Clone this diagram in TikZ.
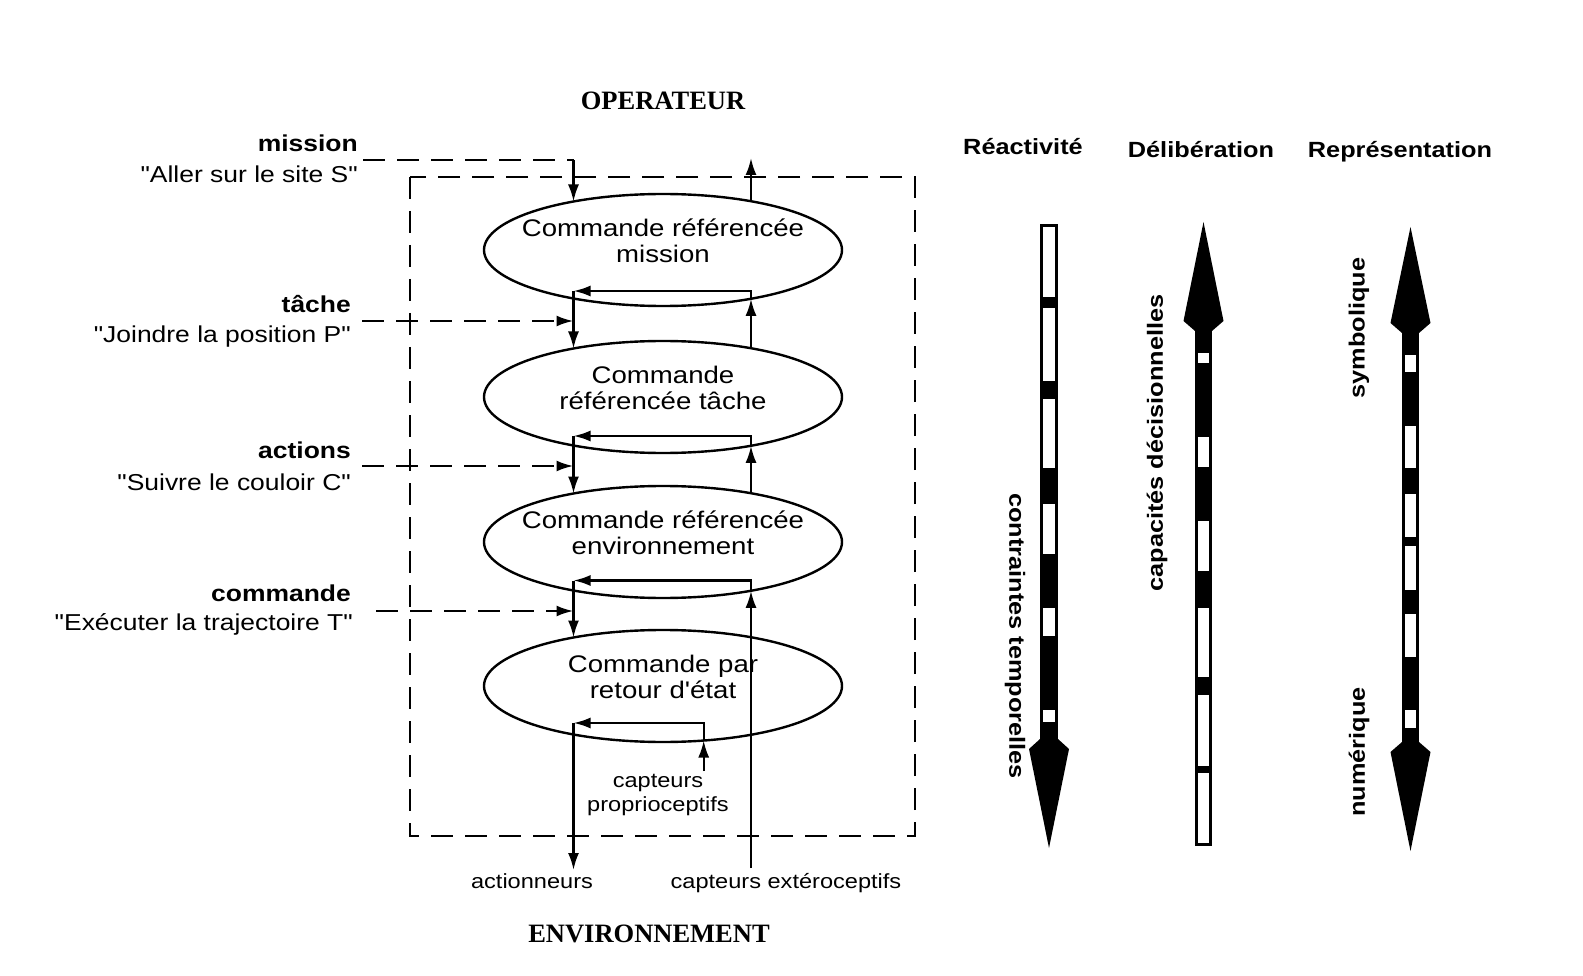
\documentclass[tikz,border=0pt]{standalone}
\usepackage{fontspec}
\setmainfont{Liberation Sans}[FakeStretch=1.15]
\newfontfamily\capsfont{Liberation Serif}
\newfontfamily\qfont{Liberation Sans}[FakeStretch=1.15]
\usetikzlibrary{shapes.geometric,arrows.meta,calc}
\newcommand{\dq}{{\qfont\symbol{34}}}
\newcommand{\sq}{{\qfont\symbol{39}}}
\begin{document}
\begin{tikzpicture}[x=1pt,y=-1pt,
  ell/.style={draw,ellipse,line width=2.4pt,minimum width=358pt,minimum height=112pt,inner sep=0pt},
  etext/.style={align=center,font=\fontsize{24}{26.5}\selectfont,inner sep=0pt},
  conn/.style={line width=2.3pt,-{Latex[length=17pt,width=11pt]}},
  dashline/.style={line width=2.5pt,dash pattern=on 22pt off 12pt},
  dasharrow/.style={line width=2.5pt,dash pattern=on 22pt off 12pt,-{Latex[length=17pt,width=11pt]}},
  boldlab/.style={font=\fontsize{23}{26}\selectfont\bfseries,anchor=east,inner sep=0pt},
  quotelab/.style={font=\fontsize{23}{26}\selectfont,anchor=east,inner sep=0pt},
  smalllab/.style={font=\fontsize{20.5}{24}\selectfont,inner sep=0pt,align=center},
  headlab/.style={font=\fontsize{22}{26}\selectfont\bfseries,inner sep=0pt},
  bigcaps/.style={font=\capsfont\bfseries\fontsize{26.5}{30}\selectfont,inner sep=0pt},
]
\useasboundingbox (0,0) rectangle (1583,976);

% titles
\node[bigcaps] (op) at (663,101) {OPERATEUR};
\node[bigcaps] (env) at (649,934) {ENVIRONNEMENT};

% dashed frame
\draw[dashline] (410,177) rectangle (915,836);

% ellipses
\node[ell] (e1) at (663,250) {};
\node[ell] (e2) at (663,397) {};
\node[ell] (e3) at (663,542) {};
\node[ell] (e4) at (663,686) {};
\node[etext] (t1) at ([yshift=9pt]e1.center) {Commande référencée\\mission};
\node[etext] (t2) at ([yshift=9pt]e2.center) {Commande\\référencée tâche};
\node[etext] (t3) at ([yshift=9pt]e3.center) {Commande référencée\\environnement};
\node[etext] (t4) at ([yshift=9pt]e4.center) {Commande par\\retour d\sq état};

% points on the ellipses
\foreach \k in {1,2,3,4}{
  \coordinate (e\k tl) at ($(e\k.center)+(-89.5,-48.5)$);
  \coordinate (e\k tr) at ($(e\k.center)+(88,-48.8)$);
  \coordinate (e\k bl) at ($(e\k.center)+(-89.5,48.5)$);
  \coordinate (e\k br) at ($(e\k.center)+(88,48.8)$);
}
\coordinate (e4bp) at ($(e4.center)+(40.7,54.5)$);

% left labels
\node[boldlab] (lm) at (358,143) {mission};
\node[quotelab] (qm) at (358,174) {\dq Aller sur le site S\dq};
\node[boldlab] (lt) at (351,304) {tâche};
\node[quotelab] (qt) at (351,337) {\dq Joindre la position P\dq};
\node[boldlab] (la) at (351,450) {actions};
\node[quotelab] (qa) at (351,482) {\dq Suivre le couloir C\dq};
\node[boldlab] (lc) at (351,593) {commande};
\node[quotelab] (qc) at (353,624) {\dq Exécuter la trajectoire T\dq};

% mission input and top output
\coordinate (m0) at (363,160);
\coordinate (m1) at (573.5,160);
\coordinate (up1) at (751,158);
\draw[dashline] (m0) -- (m1);
\draw[conn] (m1) -- (e1tl);
\draw[conn] (e1tr) -- (up1);

% gap 1
\coordinate (h1r) at (751,291);
\coordinate (h1l) at (573.5,291);
\coordinate (d1s) at (362,321);
\coordinate (d1e) at (573.5,321);
\draw[conn] (e2tr) -- (e1br);
\draw[conn] (e1br) -- (h1r) -- (h1l);
\draw[conn] (h1l) -- (e2tl);
\draw[dasharrow] (d1s) -- (d1e);

% gap 2
\coordinate (h2r) at (751,436);
\coordinate (h2l) at (573.5,436);
\coordinate (d2s) at (362,466);
\coordinate (d2e) at (573.5,466);
\draw[conn] (e3tr) -- (e2br);
\draw[conn] (e2br) -- (h2r) -- (h2l);
\draw[conn] (h2l) -- (e3tl);
\draw[dasharrow] (d2s) -- (d2e);

% gap 3
\coordinate (h3r) at (751,580.5);
\coordinate (h3l) at (573.5,580.5);
\coordinate (d3s) at (376,611);
\coordinate (d3e) at (573.5,611);
\coordinate (ext) at (751,868);
\draw[conn] (ext) -- (e3br);
\draw[conn] (e3br) -- (h3r) -- (h3l);
\draw[conn] (h3l) -- (e4tl);
\draw[dasharrow] (d3s) -- (d3e);

% bottom loop
\node[smalllab] (propr) at (658,795) {capteurs\\proprioceptifs};
\coordinate (pp) at (703.7,771);
\coordinate (h4r) at (703.7,723);
\coordinate (h4l) at (573.5,723);
\coordinate (act) at (573.5,870);
\draw[conn] (pp) -- (e4bp);
\draw[conn] (e4bp) -- (h4r) -- (h4l);
\draw[conn] (h4l) -- (act);
\node[smalllab] (actl) at (532,881) {actionneurs};
\node[smalllab] (extl) at (786,883) {capteurs extéroceptifs};

% headers
\node[headlab] (hr) at (1023,147) {Réactivité};
\node[headlab] (hd) at (1201,150) {Délibération};
\node[headlab] (hp) at (1400,152) {Représentation};

% bar 1 : Réactivité
\fill (1040,224) rectangle (1058,745);
\fill (1040,739) -- (1029,749) -- (1049,848) -- (1069,749) -- (1058,739) -- cycle;
\foreach \a/\b in {227/297,308/381,399/468,504/554,608/636,710/722}
  \fill[white] (1043,\a) rectangle (1055,\b);
\node[headlab,rotate=-90] (ct) at (1015,636) {contraintes temporelles};

% bar 2 : Délibération
\fill (1195,326) rectangle (1212,846);
\fill (1195,331) -- (1183.5,321) -- (1203.5,222) -- (1223.5,321) -- (1212,331) -- cycle;
\foreach \a/\b in {353/363,437/467,521/571,608/677,695/766,773/843}
  \fill[white] (1198,\a) rectangle (1209,\b);
\node[headlab,rotate=90] (cd) at (1157,443) {capacités décisionnelles};

% bar 3 : Représentation
\fill (1402,328) rectangle (1419,747);
\fill (1402,333) -- (1390.5,323) -- (1410.5,227) -- (1430.5,323) -- (1419,333) -- cycle;
\fill (1402,742) -- (1390.5,752) -- (1410.5,851) -- (1430.5,752) -- (1419,742) -- cycle;
\foreach \a/\b in {355/372,426/468,494/537,546/590,614/657,710/728}
  \fill[white] (1405,\a) rectangle (1416,\b);
\node[headlab,rotate=90] (sy) at (1359,328) {symbolique};
\node[headlab,rotate=90] (nu) at (1359,752) {numérique};
\end{tikzpicture}
\end{document}
